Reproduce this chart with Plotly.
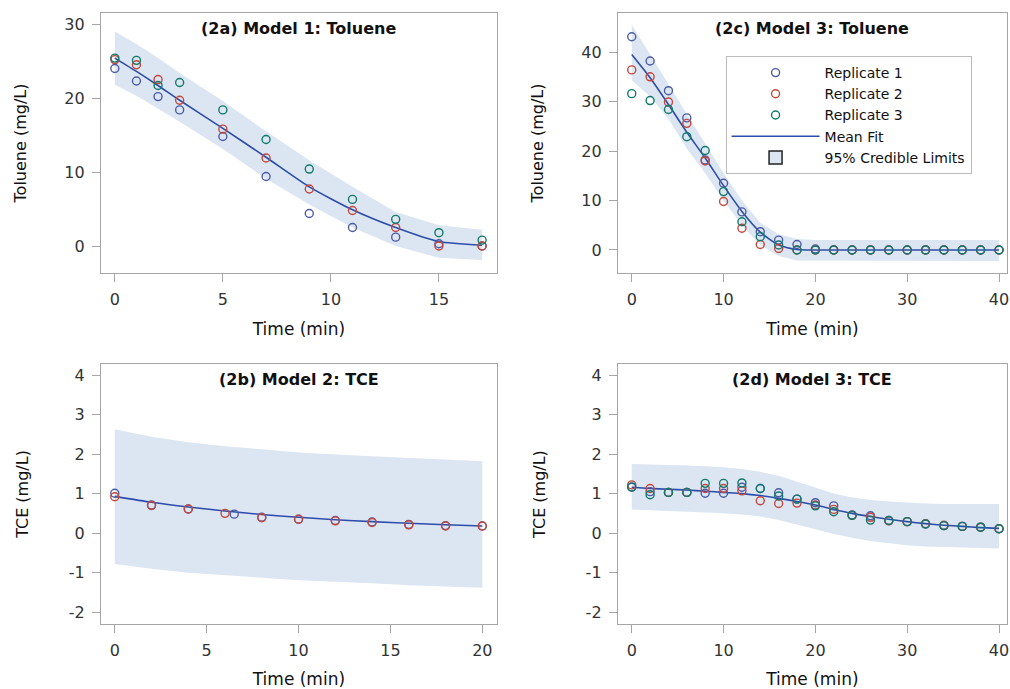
import plotly.graph_objects as go

# ---------------- data ----------------
# (2a) Model 1: Toluene
t_a = [0, 1, 2, 3, 5, 7, 9, 11, 13, 15, 17]
a_rep1 = [24.0, 22.3, 20.2, 18.4, 14.8, 9.4, 4.4, 2.5, 1.2, 0.3, 0.0]
a_rep2 = [25.2, 24.5, 22.5, 19.7, 15.8, 11.9, 7.7, 4.8, 2.5, 0.0, 0.0]
a_rep3 = [25.4, 25.1, 21.7, 22.1, 18.4, 14.4, 10.4, 6.3, 3.6, 1.8, 0.8]
a_fit = [25.4, 23.6, 21.7, 19.7, 15.9, 12.0, 8.0, 4.9, 2.5, 0.6, 0.1]
a_upper = [29.0, 27.3, 25.4, 23.4, 19.6, 15.5, 11.6, 8.0, 4.6, 2.8, 2.2]
a_lower = [21.8, 20.3, 18.6, 16.8, 13.1, 9.1, 5.6, 2.5, 0.0, -1.6, -1.9]

# (2b) Model 2: TCE
t_b = [0, 2, 4, 6, 8, 10, 12, 14, 16, 18, 20]
t_b_rep1 = [0, 2, 4, 6.5, 8, 10, 12, 14, 16, 18, 20]
b_rep1 = [1.01, 0.71, 0.61, 0.48, 0.40, 0.35, 0.32, 0.28, 0.22, 0.19, 0.18]
b_rep2 = [0.92, 0.70, 0.61, 0.50, 0.39, 0.35, 0.31, 0.27, 0.21, 0.18, 0.18]
b_fit = [0.93, 0.78, 0.66, 0.56, 0.47, 0.40, 0.34, 0.29, 0.25, 0.21, 0.18]
b_upper = [2.63, 2.44, 2.30, 2.20, 2.12, 2.04, 1.99, 1.94, 1.90, 1.86, 1.82]
b_lower = [-0.78, -0.90, -1.00, -1.07, -1.13, -1.19, -1.23, -1.27, -1.32, -1.35, -1.38]

# (2c) Model 3: Toluene
t_c = [0, 2, 4, 6, 8, 10, 12, 14, 16, 18, 20, 22, 24, 26, 28, 30, 32, 34, 36, 38, 40]
c_rep1 = [43.1, 38.2, 32.2, 26.7, 18.2, 13.5, 7.7, 3.7, 2.0, 1.1, 0.2, 0, 0, 0, 0, 0, 0, 0, 0, 0, 0]
c_rep2 = [36.4, 35.0, 29.9, 25.6, 18.0, 9.8, 4.4, 1.1, 0.3, 0.0, 0, 0, 0, 0, 0, 0, 0, 0, 0, 0, 0]
c_rep3 = [31.6, 30.2, 28.4, 22.9, 20.1, 11.8, 5.7, 2.7, 1.0, 0.0, 0, 0, 0, 0, 0, 0, 0, 0, 0, 0, 0]
c_fit = [39.5, 34.8, 29.4, 23.8, 18.6, 13.0, 7.8, 3.6, 1.0, 0.1, 0, 0, 0, 0, 0, 0, 0, 0, 0, 0, 0]
c_upper = [45.5, 39.5, 33.7, 27.5, 21.5, 15.5, 10.0, 5.5, 3.2, 2.2, 2.0, 2.0, 2.0, 2.0, 2.0, 2.0, 2.0, 2.0, 2.0, 2.0, 2.0]
c_lower = [34.3, 31.0, 26.5, 20.5, 15.5, 10.0, 5.0, 1.0, -1.2, -2.1, -2.2, -2.2, -2.2, -2.2, -2.2, -2.2, -2.2, -2.2, -2.2, -2.2, -2.2]

# (2d) Model 3: TCE
t_d = [0, 2, 4, 6, 8, 10, 12, 14, 16, 18, 20, 22, 24, 26, 28, 30, 32, 34, 36, 38, 40]
d_rep1 = [1.16, 1.05, 1.03, 1.03, 1.01, 1.01, 1.16, 1.13, 1.02, 0.86, 0.77, 0.69, 0.46, 0.44, 0.32, 0.29, 0.23, 0.19, 0.17, 0.15, 0.11]
d_rep2 = [1.22, 1.13, 1.03, 1.03, 1.13, 1.13, 1.07, 0.82, 0.75, 0.76, 0.71, 0.60, 0.45, 0.40, 0.31, 0.29, 0.24, 0.20, 0.17, 0.15, 0.11]
d_rep3 = [1.17, 0.97, 1.03, 1.03, 1.26, 1.26, 1.27, 1.13, 0.94, 0.86, 0.69, 0.54, 0.45, 0.33, 0.32, 0.29, 0.23, 0.19, 0.17, 0.15, 0.11]
d_fit = [1.16, 1.13, 1.11, 1.09, 1.06, 1.03, 1.00, 0.95, 0.88, 0.80, 0.71, 0.60, 0.50, 0.42, 0.35, 0.29, 0.24, 0.20, 0.17, 0.14, 0.12]
d_upper = [1.75, 1.74, 1.72, 1.71, 1.69, 1.67, 1.62, 1.55, 1.45, 1.30, 1.15, 1.00, 0.90, 0.84, 0.80, 0.77, 0.75, 0.74, 0.74, 0.74, 0.74]
d_lower = [0.60, 0.58, 0.56, 0.54, 0.52, 0.50, 0.47, 0.42, 0.33, 0.22, 0.10, -0.02, -0.12, -0.20, -0.26, -0.31, -0.34, -0.36, -0.37, -0.38, -0.39]

titles = ["(2a) Model 1: Toluene", "(2b) Model 2: TCE", "(2c) Model 3: Toluene", "(2d) Model 3: TCE"]
series_names = ["Replicate 1", "Replicate 2", "Replicate 3", "Mean Fit", "95% Credible Limits"]
tce_ticks = [-2, -1, 0, 1, 2, 3, 4]
tce_ticklabels = ["-2", "-1", "0", "1", "2", "3", "4"]

# ---------------- style ----------------
C_REP = ["#4C5BA8", "#C4473B", "#0F7A6B"]
C_FIT = "#2C4EAA"
C_BAND = "#DCE5F2"
AX_COL = "#A6A6A6"
TXT = "#333333"
FONT = "DejaVu Sans"

fig = go.Figure()

panels = [
    ("", t_a, [a_rep1, a_rep2, a_rep3], [t_a, t_a, t_a], a_fit, a_upper, a_lower, False),
    ("3", t_b, [b_rep1, b_rep2], [t_b_rep1, t_b], b_fit, b_upper, b_lower, False),
    ("2", t_c, [c_rep1, c_rep2, c_rep3], [t_c, t_c, t_c], c_fit, c_upper, c_lower, True),
    ("4", t_d, [d_rep1, d_rep2, d_rep3], [t_d, t_d, t_d], d_fit, d_upper, d_lower, False),
]

for suf, t, reps, rts, fit, up, lo, leg in panels:
    xa, ya = "x" + suf, "y" + suf
    fig.add_trace(go.Scatter(
        x=list(t) + list(t)[::-1], y=list(up) + list(lo)[::-1],
        fill="toself", fillcolor=C_BAND, line=dict(width=0),
        mode="lines", hoverinfo="skip", showlegend=False, xaxis=xa, yaxis=ya))
    fig.add_trace(go.Scatter(
        x=t, y=fit, mode="lines", line=dict(color=C_FIT, width=1.6, shape="spline", smoothing=0.6),
        name=series_names[3], showlegend=leg, legendrank=4, xaxis=xa, yaxis=ya))
    for i, (rt, r) in enumerate(zip(rts, reps)):
        fig.add_trace(go.Scatter(
            x=rt, y=r, mode="markers", name=series_names[i],
            marker=dict(symbol="circle-open", size=8, color=C_REP[i], line=dict(width=1.4)),
            showlegend=leg, legendrank=i + 1, xaxis=xa, yaxis=ya))

# legend-only entry for the band
fig.add_trace(go.Scatter(
    x=[None], y=[None], mode="markers", name=series_names[4],
    marker=dict(symbol="square", size=13, color=C_BAND, line=dict(color="#222222", width=1.5)),
    showlegend=True, legendrank=5, xaxis="x2", yaxis="y2"))

W, H = 1010, 689
def px_x(a, b):
    return [a / W, b / W]
def px_y(top, bottom):
    return [(H - bottom) / H, (H - top) / H]

common_ax = dict(showline=True, mirror=True, linecolor=AX_COL, linewidth=1,
                 ticks="outside", ticklen=8, tickcolor=AX_COL, tickwidth=1,
                 showgrid=False, zeroline=False,
                 tickfont=dict(family=FONT, size=16, color=TXT),
                 ticklabelstandoff=4, ticklabeloverflow="allow")
title_font = dict(family=FONT, size=17, color="#111111")
ytitle_font = dict(family=FONT, size=16, color="#111111")

layout_axes = {
    "xaxis": dict(common_ax, domain=px_x(101, 498), range=[-0.65, 17.69], dtick=5, anchor="y",
                  title=dict(text="Time (min)", font=title_font, standoff=14)),
    "yaxis": dict(common_ax, domain=px_y(13, 273), range=[-3.65, 31.5], dtick=10, anchor="x",
                  title=dict(text="Toluene (mg/L)", font=ytitle_font, standoff=33)),
    "xaxis2": dict(common_ax, domain=px_x(619, 1009), range=[-1.52, 40.87], dtick=10, anchor="y2",
                   title=dict(text="Time (min)", font=title_font, standoff=14)),
    "yaxis2": dict(common_ax, domain=px_y(13, 273), range=[-4.65, 47.9], dtick=10, anchor="x2",
                   title=dict(text="Toluene (mg/L)", font=ytitle_font, standoff=33)),
    "xaxis3": dict(common_ax, domain=px_x(101, 498), range=[-0.76, 20.8], dtick=5, anchor="y3",
                   title=dict(text="Time (min)", font=title_font, standoff=14)),
    "yaxis3": dict(common_ax, domain=px_y(364, 624), range=[-2.3, 4.28], anchor="x3",
                   tickmode="array", tickvals=tce_ticks, ticktext=tce_ticklabels,
                   title=dict(text="TCE (mg/L)", font=ytitle_font, standoff=36)),
    "xaxis4": dict(common_ax, domain=px_x(619, 1009), range=[-1.52, 40.87], dtick=10, anchor="y4",
                   title=dict(text="Time (min)", font=title_font, standoff=14)),
    "yaxis4": dict(common_ax, domain=px_y(364, 624), range=[-2.3, 4.28], anchor="x4",
                   tickmode="array", tickvals=tce_ticks, ticktext=tce_ticklabels,
                   title=dict(text="TCE (mg/L)", font=ytitle_font, standoff=36)),
}

annotations = []
for suf, ttl in zip(["", "3", "2", "4"], titles):
    annotations.append(dict(
        text="<b>" + ttl + "</b>", xref=("x" + suf) + " domain", yref=("y" + suf) + " domain",
        x=0.5, y=0.94, xanchor="center", yanchor="middle", showarrow=False,
        font=dict(family=FONT, size=16, color="#111111")))

fig.update_layout(
    width=W, height=H,
    margin=dict(l=0, r=0, t=0, b=0),
    paper_bgcolor="white", plot_bgcolor="white",
    annotations=annotations,
    legend=dict(x=727 / W, y=(H - 56) / H, xanchor="left", yanchor="top",
                bgcolor="white", bordercolor="#BBBBBB", borderwidth=1,
                font=dict(family=FONT, size=14, color="#111111"),
                itemwidth=88, traceorder="normal"),
    **layout_axes,
)

fig.write_html("out.html", config={"displayModeBar": False},
               post_script="document.body.style.margin='0px';document.body.style.overflow='hidden';")
